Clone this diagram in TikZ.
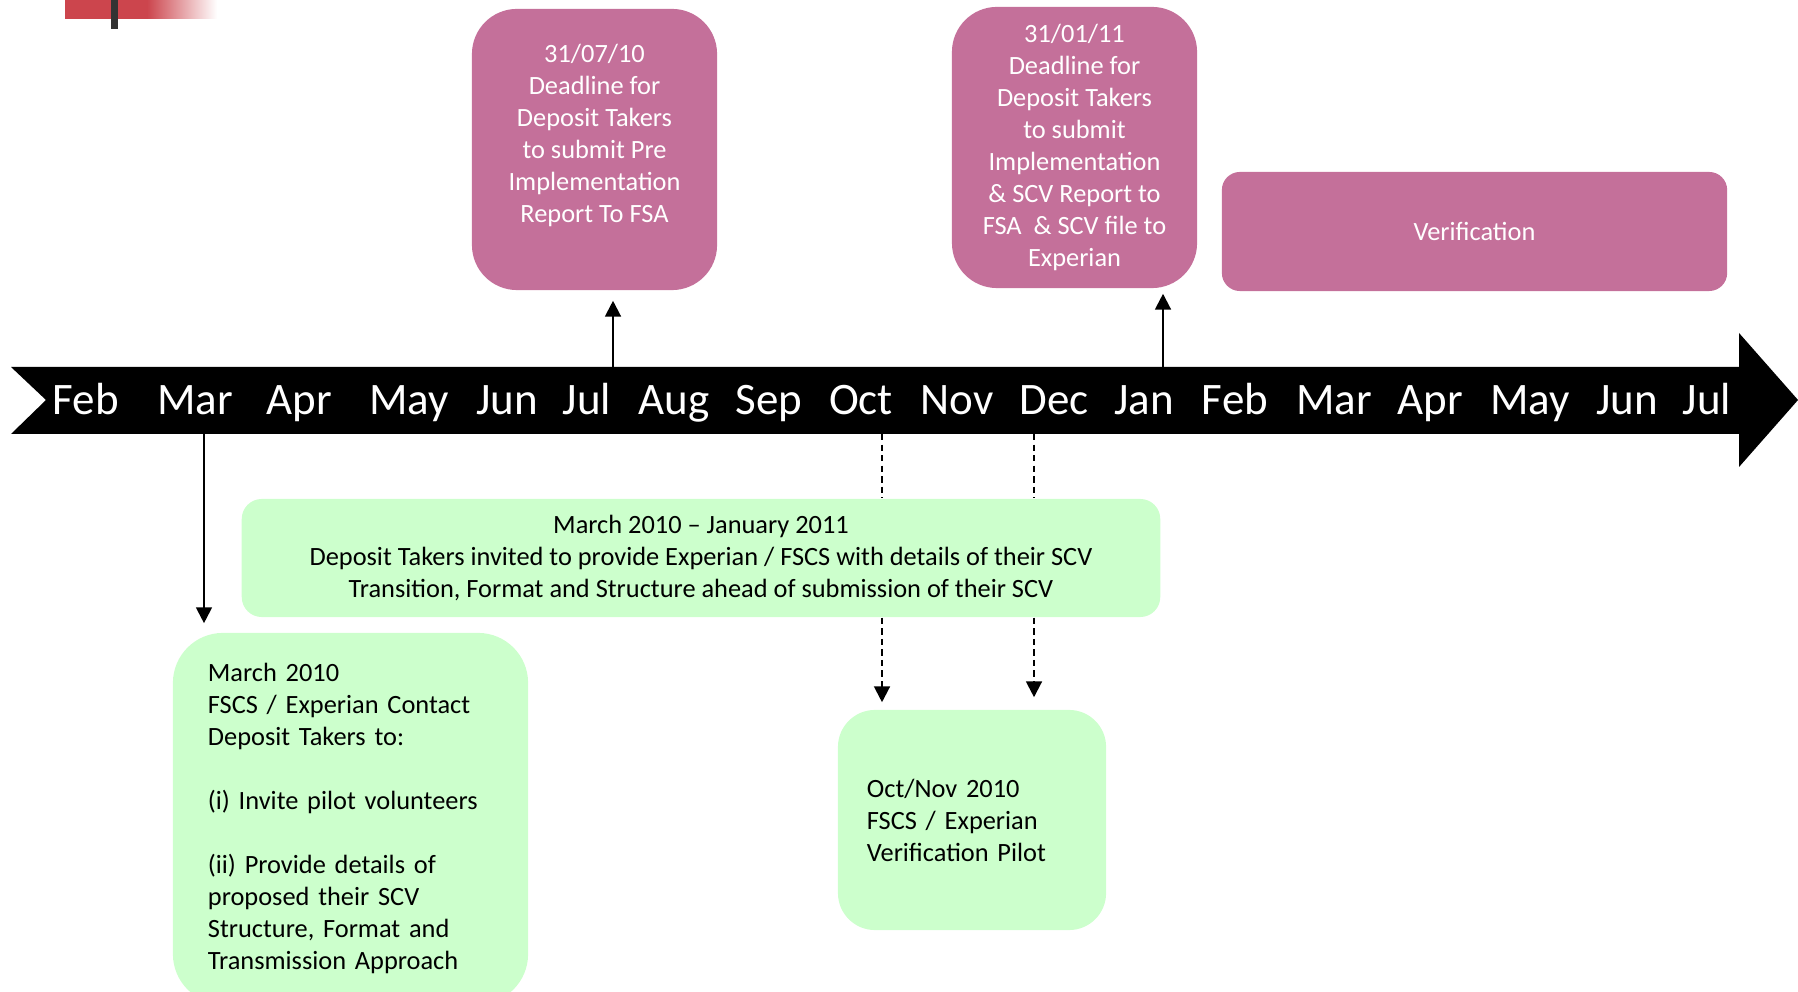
\documentclass[tikz,border=0pt]{standalone}
\usepackage{fontspec}
\setmainfont{Carlito}
\usetikzlibrary{arrows.meta}
\definecolor{deadpink}{HTML}{C4709A}
\definecolor{stepgreen}{HTML}{CCFFCC}
\definecolor{barred}{HTML}{CC454D}
\newcommand{\boxfont}{\fontsize{7.5}{9.1}\selectfont}

\begin{document}
\begin{tikzpicture}[x=.01cm,y=-.01cm,
    month/.style={text=white,font=\fontsize{12.8}{15}\selectfont,anchor=base,inner sep=0},
    pinkbox/.style={fill=deadpink,text=white,align=center,font=\boxfont,inner sep=0},
    greenbox/.style={fill=stepgreen,font=\boxfont,inner sep=0},
    arr/.style={semithick,-{Triangle[length=4.5pt,width=4.5pt]}},
    dashline/.style={semithick,dash pattern=on 1.8pt off 1.2pt}]
\useasboundingbox (0,0) rectangle (1798,992);
% logo strip
\fill[barred] (65,0) rectangle (147,19);
\shade[left color=barred,right color=white] (147,0) rectangle (217,19);
\fill[black!80] (111,0) rectangle (118,29);

% time line
\fill (11,367) -- (1739,367) -- (1739,333) -- (1798,400) -- (1739,467)
  -- (1739,434) -- (11,434) -- (46,400) -- cycle;
\foreach \x/\m [count=\i] in {86/Feb,195/Mar,299/Apr,409/May,507/Jun,587/Jul,
    674/Aug,769/Sep,861/Oct,957/Nov,1054/Dec,1144/Jan,1235/Feb,1334/Mar,
    1430/Apr,1530/May,1627/Jun,1707/Jul}
  \node (m\i) at (\x,415) [month] {\m};

\node (pre) at (594.5,149.5) [pinkbox,rounded corners=.45cm,minimum width=2.45cm,minimum height=2.81cm]
  {31/07/10\\Deadline for\\Deposit Takers\\to submit Pre\\Implementation\\Report To FSA\\~};
\node (dead) at (1074.5,147.5) [pinkbox,rounded corners=.45cm,minimum width=2.45cm,minimum height=2.81cm]
  {31/01/11\\Deadline for\\Deposit Takers\\to submit\\Implementation\\\& SCV Report to\\FSA~~\& SCV file to\\Experian};
\node (verif) at (1474.5,231.5) [pinkbox,rounded corners=.18cm,minimum width=5.05cm,minimum height=1.19cm]
  {Verification};

\node (wide) at (701,558) [greenbox,align=center,rounded corners=.2cm,minimum width=9.18cm,minimum height=1.18cm]
  {March 2010 -- January 2011\\Deposit Takers invited to provide Experian / FSCS with details of their SCV\\Transition, Format and Structure ahead of submission of their SCV};
\node (march) at (350.5,818.5) [greenbox,align=left,rounded corners=.5cm,text width=2.85cm,inner xsep=.35cm,minimum height=3.71cm]
  {March 2010\\FSCS / Experian Contact\\Deposit Takers to:\\[9.1pt](i) Invite pilot volunteers\\[9.1pt](ii) Provide details of\\proposed their SCV\\Structure, Format and\\Transmission Approach};
\node (pilot) at (972,820) [greenbox,align=left,rounded corners=.37cm,text width=2.1cm,inner xsep=.29cm,minimum height=2.2cm]
  {Oct/Nov 2010\\FSCS / Experian\\Verification Pilot};

\coordinate (jul) at (613,367);
\coordinate (jan) at (1163,367);
\coordinate (mar) at (204,434);
\coordinate (oct) at (882,434);
\coordinate (dec) at (1034,434);

\draw[arr,shorten >=.1cm] (jul) -- (jul |- pre.south);
\draw[arr,shorten >=.05cm] (jan) -- (jan |- dead.south);
\draw[arr,shorten >=.09cm] (mar) -- (mar |- march.north);
\draw[dashline]
(oct) -- (oct |- wide.north)
(dec) -- (dec |- wide.north);
\draw[dashline,arr,shorten >=.07cm] (oct |- wide.south) -- (oct |- pilot.north);
\draw[dashline,arr,shorten >=.12cm] (dec |- wide.south) -- (dec |- pilot.north);
\end{tikzpicture}
\end{document}
